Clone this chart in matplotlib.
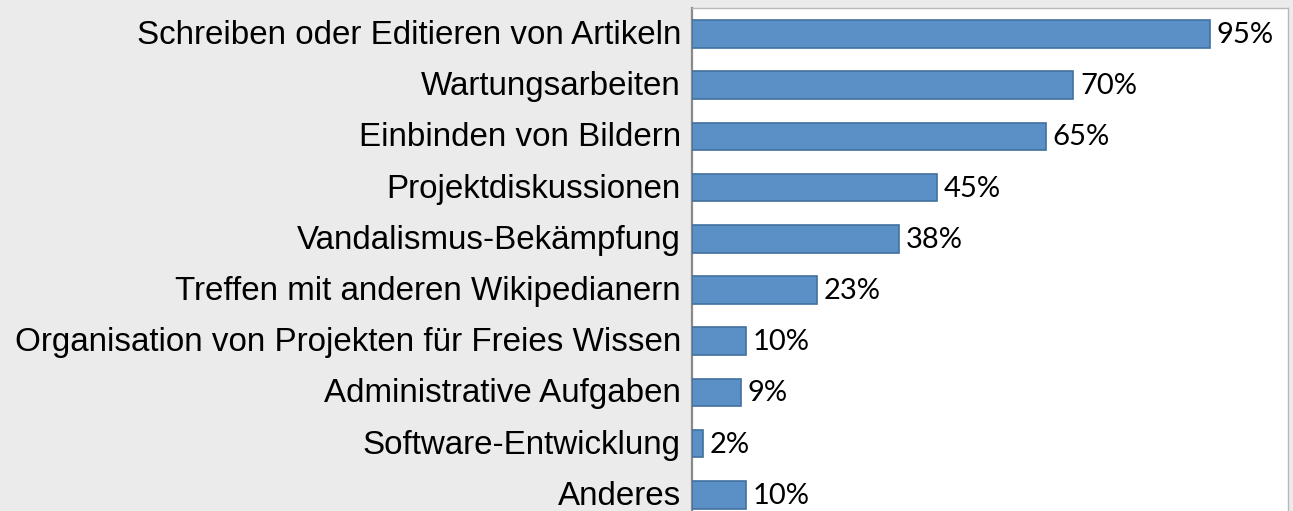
import matplotlib
matplotlib.use("Agg")
import matplotlib.pyplot as plt
from matplotlib.transforms import ScaledTranslation

categories = [
    "Schreiben oder Editieren von Artikeln",
    "Wartungsarbeiten",
    "Einbinden von Bildern",
    "Projektdiskussionen",
    "Vandalismus-Bekämpfung",
    "Treffen mit anderen Wikipedianern",
    "Organisation von Projekten für Freies Wissen",
    "Administrative Aufgaben",
    "Software-Entwicklung",
    "Anderes",
]
values = [95, 70, 65, 45, 38, 23, 10, 9, 2, 10]
value_labels = ["95%", "70%", "65%", "45%", "38%", "23%", "10%", "9%", "2%", "10%"]

W, H = 1293, 511
fig = plt.figure(figsize=(W / 100, H / 100), dpi=100)
fig.patch.set_facecolor("#ebebeb")

pitch = 51.2
top_px = 8.4
left_px = 692
right_px = 1288
ylim_bottom = 10.0
ax_h_px = (ylim_bottom + 0.5) * pitch
ax = fig.add_axes([left_px / W, (H - top_px - ax_h_px) / H,
                   (right_px - left_px) / W, ax_h_px / H])
ax.set_facecolor("white")

y = list(range(len(categories)))
ax.barh(y, values, height=0.54, color="#5b90c6", edgecolor="#41719f",
        linewidth=1.2, zorder=3)
ax.set_ylim(ylim_bottom, -0.5)
ax.set_xlim(0, 109.4)

ax.set_yticks(y)
ax.set_yticklabels(categories, fontsize=23.9, family="Liberation Sans",
                   color="#000000")
ax.tick_params(axis="y", length=0, pad=8)
ax.set_xticks([])
shift = ScaledTranslation(0, 2.0 / 100, fig.dpi_scale_trans)
for lbl in ax.get_yticklabels():
    lbl.set_transform(lbl.get_transform() + shift)

for yi, v, lab in zip(y, values, value_labels):
    ax.text(v + 1.2, yi + 0.02, lab, va="center", ha="left", fontsize=21,
            family="Lato", color="#000000")

for s in ["top", "right", "bottom"]:
    ax.spines[s].set_color("#b8b8b8")
    ax.spines[s].set_linewidth(1.0)
ax.spines["left"].set_color("#8a8a8a")
ax.spines["left"].set_linewidth(1.6)

fig.savefig("out.png", dpi=100, facecolor=fig.get_facecolor())
